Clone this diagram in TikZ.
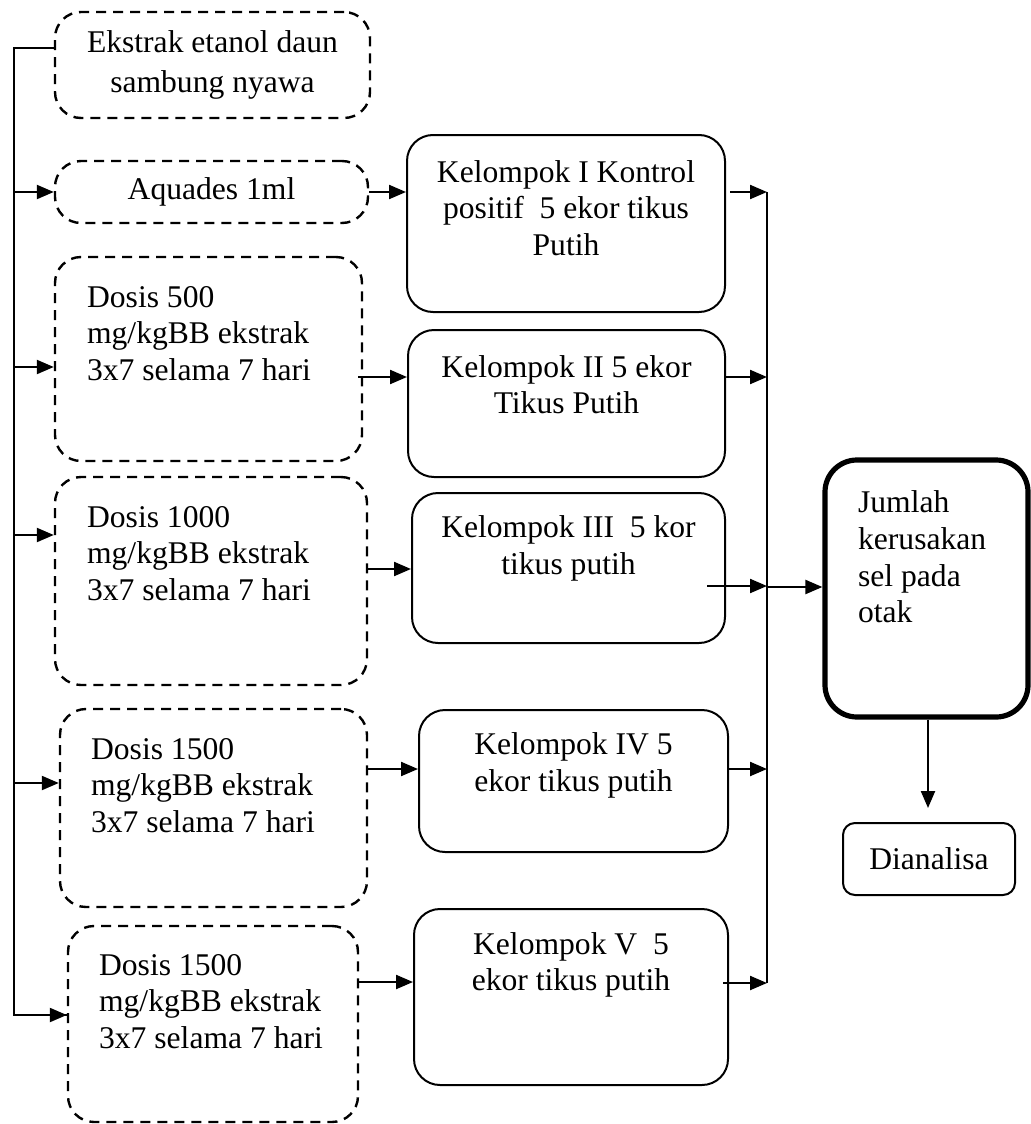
\documentclass[tikz,border=0pt]{standalone}
\usepackage{fontspec}
\setmainfont{Liberation Serif}
\usetikzlibrary{arrows.meta}

\tikzset{
  txt/.style={inner sep=0pt, align=center, font=\fontsize{15.8pt}{18.3pt}\selectfont},
  dashbox/.style={draw, line width=1.2pt, dash pattern=on 5pt off 3.5pt, rounded corners=13pt},
  solidbox/.style={draw, line width=1pt, rounded corners=13pt},
  thickbox/.style={draw, line width=2.6pt, rounded corners=16pt},
}

\begin{document}
\begin{tikzpicture}[x=0.5pt, y=-0.5pt, >={Triangle[length=8.5pt,width=7pt]}, line width=1.1pt]
\useasboundingbox (0,0) rectangle (1031,1124);

% Left side boxes
\node[dashbox, minimum width=157.5pt, minimum height=53pt] (ekstrak) at (212.5,65) {};
\node[txt, font=\fontsize{15.8pt}{20pt}\selectfont] (ekstrakT) at (212.5,65) {Ekstrak etanol daun\\sambung nyawa};
\node[dashbox, minimum width=156.5pt, minimum height=31pt] (aquades) at (211.5,192) {};
\node[txt] (aquadesT) at (211.5,192) {Aquades 1ml};
\node[dashbox, minimum width=153.5pt, minimum height=102pt] (dosisA) at (208.5,359) {};
\node[txt, align=left, anchor=west] (dosisAT) at (86,333.5) {Dosis 500\\mg/kgBB ekstrak\\3x7 selama 7 hari};
\node[dashbox, minimum width=156pt, minimum height=104pt] (dosisB) at (211,581) {};
\node[txt, align=left, anchor=west] (dosisBT) at (86,553.5) {Dosis 1000\\mg/kgBB ekstrak\\3x7 selama 7 hari};
\node[dashbox, minimum width=153.5pt, minimum height=99pt] (dosisC) at (213.5,808) {};
\node[txt, align=left, anchor=west] (dosisCT) at (90,785.5) {Dosis 1500\\mg/kgBB ekstrak\\3x7 selama 7 hari};
\node[dashbox, minimum width=145pt, minimum height=98pt] (dosisD) at (213,1024) {};
\node[txt, align=left, anchor=west] (dosisDT) at (98,1001.5) {Dosis 1500\\mg/kgBB ekstrak\\3x7 selama 7 hari};

% Groups
\node[solidbox, minimum width=159pt, minimum height=88.5pt] (kelI) at (566,223.5) {};
\node[txt] (kelIT) at (566,208) {Kelompok I Kontrol\\positif \ 5 ekor tikus\\Putih};
\node[solidbox, minimum width=158.5pt, minimum height=73.5pt] (kelII) at (566.5,403.5) {};
\node[txt] (kelIIT) at (566.5,384.5) {Kelompok II 5 ekor\\Tikus Putih};
\node[solidbox, minimum width=156.5pt, minimum height=75pt] (kelIII) at (568.5,568) {};
\node[txt] (kelIIIT) at (568.5,548.5) {Kelompok III \ 5 kor\\tikus putih};
\node[solidbox, minimum width=154.5pt, minimum height=71pt] (kelIV) at (573.5,781) {};
\node[txt] (kelIVT) at (573.5,765.5) {Kelompok IV 5\\ekor tikus putih};
\node[solidbox, minimum width=157pt, minimum height=88pt] (kelV) at (571,997) {};
\node[txt] (kelVT) at (571,965) {Kelompok V \ 5\\ekor tikus putih};

% Result
\node[thickbox, minimum width=101.5pt, minimum height=128.5pt] (jumlah) at (926.5,588.5) {};
\node[txt, align=left, anchor=west] (jumlahT) at (857,557) {Jumlah\\kerusakan\\sel pada\\otak};
\node[solidbox, rounded corners=6pt, minimum width=86pt, minimum height=36pt] (analisa) at (929,859) {};
\node[txt] (analisaT) at (929,859) {Dianalisa};

% Left bus
\coordinate (busTop) at (14,48);
\coordinate (busBot) at (14,1015);
\draw (ekstrak.west |- busTop) -- (busTop) -- (busBot) -- (busBot -| dosisD.west);
\draw[->] (14,192) -- (aquades.west);
\draw[->] (14,367) -- (dosisA.west |- 0,367);
\draw[->] (14,535) -- (dosisB.west |- 0,535);
\draw[->] (14,783) -- (dosisC.west |- 0,783);
\draw[->] (14,1015) -- (dosisD.west |- 0,1015);

% Into groups
\draw[->] (aquades.east) -- (kelI.west |- aquades.east);
\draw[->] (358,377) -- (kelII.west |- 0,377);
\draw[->] (dosisB.east |- 0,569) -- (kelIII.west |- 0,569);
\draw[->] (dosisC.east |- 0,769) -- (kelIV.west |- 0,769);
\draw[->] (dosisD.east |- 0,982) -- (kelV.west |- 0,982);

% Right bus
\coordinate (rbTop) at (767,192);
\coordinate (rbBot) at (767,983);
\draw (rbTop) -- (rbBot);
\draw[->] (730,192) -- (rbTop);
\draw[->] (kelII.east |- 0,377) -- (767,377);
\draw[->] (707,586) -- (767,586);
\draw[->] (kelIV.east |- 0,769) -- (767,769);
\draw[->] (723,983) -- (rbBot);
\draw[->] (767,587) -- (jumlah.west |- 0,587);

% Down
\coordinate (tip) at (928,808);
\draw[->] (jumlah.south -| tip) -- (tip);
\end{tikzpicture}
\end{document}
